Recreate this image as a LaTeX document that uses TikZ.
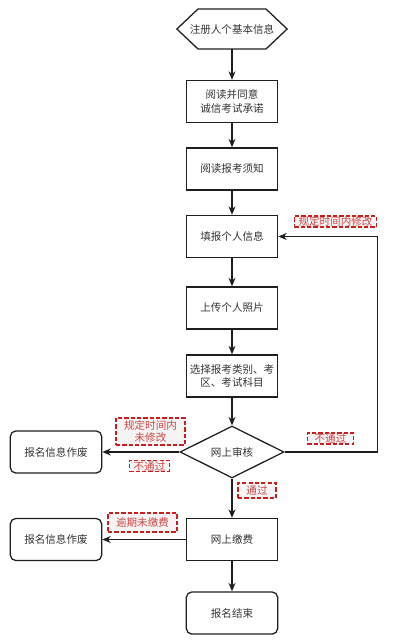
\documentclass[tikz,border=0pt]{standalone}
\usepackage{fontspec}
\setmainfont{Noto Sans CJK SC}
\usetikzlibrary{shapes.geometric,arrows.meta}
\definecolor{FlowLine}{HTML}{1E1E1E}
\definecolor{FlowText}{HTML}{333333}
\definecolor{NoteRed}{HTML}{C81E1E}
\definecolor{NoteText}{HTML}{D04545}
\definecolor{NoteFill}{HTML}{F4F4F4}

\begin{document}
\begin{tikzpicture}[x=0.025cm,y=-0.025cm,
    every node/.style={font=\fontsize{7.5}{9.5}\selectfont,text=FlowText,align=center},
    stepbox/.style={draw=FlowLine,line width=0.9pt,minimum width=65pt,minimum height=30pt,inner sep=1pt},
    endbox/.style={stepbox,rounded corners=4pt},
    checkbox/.style={diamond,draw=FlowLine,line width=0.9pt,minimum width=74pt,minimum height=33pt,inner sep=0pt},
    note/.style={draw=NoteRed,fill=NoteFill,line width=1pt,dash pattern=on 3pt off 1.5pt,
      text=NoteText,font=\fontsize{7.5}{9}\selectfont,inner xsep=3pt,inner ysep=0.5pt},
    flow/.style={draw=FlowLine,line width=0.9pt,-{Stealth[length=6pt,width=5pt]}}]
  \useasboundingbox (0,0) rectangle (400,640);

  % main column
  \node[minimum width=78pt,minimum height=28pt,inner sep=0pt] (reg) at (232,29) {注册人个基本信息};
  \draw[FlowLine,line width=0.9pt] (reg.west) -- ([xshift=15pt]reg.north west) -- ([xshift=-15pt]reg.north east)
    -- (reg.east) -- ([xshift=-15pt]reg.south east) -- ([xshift=15pt]reg.south west) -- cycle;
  \node[stepbox] (promise) at (232,101.5) {阅读并同意\\诚信考试承诺};
  \node[stepbox] (notice) at (232,169) {阅读报考须知};
  \node[stepbox] (fill) at (232,236.5) {填报个人信息};
  \node[stepbox] (photo) at (232,308) {上传个人照片};
  \node[stepbox] (choose) at (232,376) {选择报考类别、考\\区、考试科目};
  \node[checkbox] (check) at (232,452) {网上审核};
  \node[stepbox] (pay) at (232,539.5) {网上缴费};
  \node[endbox] (done) at (232,613) {报名结束};

  % left column
  \node[endbox] (void1) at (56,452) {报名信息作废};
  \node[endbox] (void2) at (56,539.5) {报名信息作废};

  \draw[flow] (reg) -- (promise);
  \draw[flow] (promise) -- (notice);
  \draw[flow] (notice) -- (fill);
  \draw[flow] (fill) -- (photo);
  \draw[flow] (photo) -- (choose);
  \draw[flow] (choose) -- (check);
  \draw[flow] (check) -- (pay);
  \draw[flow] (pay) -- (done);
  \draw[flow] (check) -- (void1);
  \draw[flow] (pay) -- (void2);
  \draw[flow] (check.east) -- ++(93,0) |- (fill.east);

  % notes
  \node[note] (n1) at (335.5,221.5) {规定时间内修改};
  \node[note,minimum width=49pt,minimum height=19pt] (n2) at (150.5,431.5) {规定时间内\\未修改};
  \node[note,minimum width=25pt] (n3) at (149.5,466) {不通过};
  \node[note,minimum width=33pt] (n4) at (330.5,438.5) {不通过};
  \node[note,minimum width=27pt,minimum height=10.5pt] (n5) at (257,490.5) {通过};
  \node[note,minimum width=49pt,minimum height=13.5pt] (n6) at (142.5,522.5) {逾期未缴费};
\end{tikzpicture}
\end{document}
